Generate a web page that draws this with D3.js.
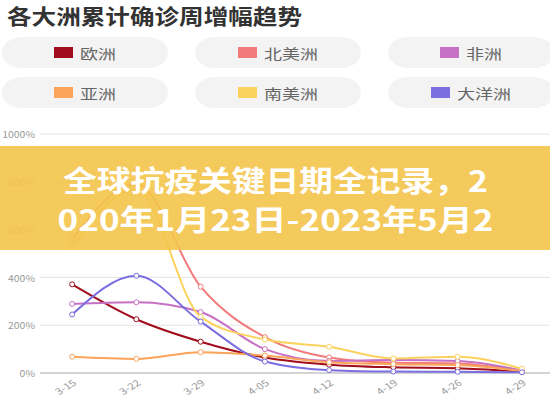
<!DOCTYPE html>
<html>
<head>
<meta charset="utf-8">
<script src="https://cdn.jsdelivr.net/npm/d3@7"></script>
<style>
	body { margin: 0; background: #fff; }
	svg { display: block; font-family: "Noto Sans CJK SC", "Noto Sans", sans-serif; }
</style>
</head>
<body>
<svg width="550" height="397"></svg>
<script>
// Data (weekly growth of cumulative confirmed cases, %)
var dates = ['3-15', '3-22', '3-29', '4-05', '4-12', '4-19', '4-26', '4-29'];
var y_ticks = [0, 200, 400, 600, 800, 1000];
var continents = ['欧洲', '北美洲', '非洲', '亚洲', '南美洲', '大洋洲'];
var colors = ['#a10d1c', '#f37a7a', '#c670c3', '#fba45a', '#fcd25e', '#7a6ee0'];
var europe = [371, 225, 131, 65, 35, 24, 20, 5];
var north_america = [560, 790, 361, 150, 65, 43, 40, 8];
var africa = [289, 296, 255, 100, 50, 54, 50, 10];
var asia = [68, 59, 87, 73, 45, 37, 33, 7];
var south_america = [527, 770, 235, 140, 110, 61, 68, 18];
var oceania = [245, 407, 215, 48, 12, 6, 5, 3];
var banner_lines = ['全球抗疫关键日期全记录，2', '020年1月23日-2023年5月2'];

var series = [europe, north_america, africa, asia, south_america, oceania];

var stretch = 1.28; // the source screenshot is widened horizontally
var svg = d3.select('svg');

// squeeze / widen a text to the width it takes in the picture
function fit_width(sel, width, x_of, y_of, anchor)
{
	sel.attr('transform', function(d, i)
	{
		var w = this.getBBox().width;
		return 'translate(' + x_of(d, i) + ', ' + y_of(d, i) + ') scale(' + (width(d, i) / w) + ', 1)';
	});
}

// Title
var title = svg.append('text')
	.attr('font-size', 21)
	.attr('font-weight', 700)
	.attr('fill', '#333')
	.text('各大洲累计确诊周增幅趋势');
fit_width(title, () => 295, () => 7, () => 23.5);

// Legend pills
var pill_w = 166, pill_h = 31;
var pill_x = [2, 195, 388], pill_y = [37, 77];
var legend = svg.selectAll('.legend')
	.data(continents)
	.enter().append('g')
	.attr('class', 'legend')
	.attr('transform', (d, i) => 'translate(' + pill_x[i % 3] + ', ' + pill_y[Math.floor(i / 3)] + ')');
legend.append('rect')
	.attr('width', pill_w)
	.attr('height', pill_h)
	.attr('rx', 20)
	.attr('ry', 15.5)
	.attr('fill', '#f3f3f3');
legend.each(function(d, i)
{
	var g = d3.select(this);
	var text_w = d.length * 18;
	var total = 19 + 7 + text_w;
	var x0 = (pill_w - total) / 2;
	g.append('rect')
		.attr('x', x0)
		.attr('y', pill_h / 2 - 5.5)
		.attr('width', 19)
		.attr('height', 11)
		.attr('fill', colors[i]);
	var t = g.append('text')
		.attr('dominant-baseline', 'central')
		.attr('font-size', 14)
		.attr('fill', '#666')
		.text(d);
	fit_width(t, () => text_w, () => x0 + 26, () => pill_h / 2);
});

// Scales
var x = d3.scalePoint().domain(dates).range([40, 554]).padding(0.5);
var y = d3.scaleLinear().domain([0, 1000]).range([373, 134]);

// Grid and axis
svg.selectAll('.grid')
	.data(y_ticks)
	.enter().append('line')
	.attr('x1', 40)
	.attr('x2', 550)
	.attr('y1', d => y(d))
	.attr('y2', d => y(d))
	.attr('stroke', d => d === 0 ? '#a8a8a8' : '#e4e4e4')
	.attr('stroke-width', 1);
svg.selectAll('.ylabel')
	.data(y_ticks)
	.enter().append('text')
	.attr('transform', d => 'translate(35, ' + y(d) + ') scale(1.1, 1)')
	.attr('text-anchor', 'end')
	.attr('dominant-baseline', 'central')
	.attr('font-size', 9.5)
	.attr('fill', '#999')
	.text(d => d + '%');
svg.selectAll('.xlabel')
	.data(dates)
	.enter().append('text')
	.attr('transform', d => 'translate(' + (x(d) + 2) + ', 381) scale(' + stretch + ', 1) rotate(-38)')
	.attr('text-anchor', 'end')
	.attr('dominant-baseline', 'central')
	.attr('font-size', 9)
	.attr('fill', '#999')
	.text(d => d);

// Lines
var line = d3.line()
	.x((d, i) => x(dates[i]))
	.y(d => y(d))
	.curve(d3.curveMonotoneX);
var groups = svg.selectAll('.series')
	.data(series)
	.enter().append('g')
	.attr('class', 'series');
groups.append('path')
	.attr('d', d => line(d))
	.attr('fill', 'none')
	.attr('stroke', (d, i) => colors[i])
	.attr('stroke-width', 2);
groups.each(function(d, i)
{
	d3.select(this).selectAll('circle')
		.data(d)
		.enter().append('circle')
		.attr('cx', (v, j) => x(dates[j]))
		.attr('cy', v => y(v))
		.attr('r', 2.5)
		.attr('fill', '#fff')
		.attr('stroke', colors[i])
		.attr('stroke-width', 1);
});

// Banner over the chart
svg.append('rect')
	.attr('x', 0)
	.attr('y', 146)
	.attr('width', 550)
	.attr('height', 104)
	.attr('fill', '#f4c44a')
	.attr('opacity', 0.9);
var banner_widths = [425, 436];
var banner = svg.selectAll('.banner')
	.data(banner_lines)
	.enter().append('text')
	.attr('class', 'banner')
	.attr('text-anchor', 'middle')
	.attr('font-size', 29)
	.attr('font-weight', 700)
	.attr('fill', '#fff')
	.text(d => d);
fit_width(banner, (d, i) => banner_widths[i], () => 275.5, (d, i) => 192 + i * 39);
</script>
</body>
</html>
